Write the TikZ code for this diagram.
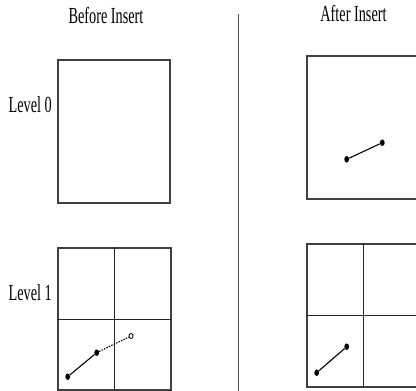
\documentclass[tikz,border=0pt]{standalone}
\usepackage{fontspec}
\setmainfont[FakeStretch=0.62]{Liberation Serif}
\usetikzlibrary{positioning,shapes.geometric}

\begin{document}
\begin{tikzpicture}[
  x=1pt,y=-1pt,
  cellbox/.style={rectangle,draw=black!75,line width=1.3pt,minimum width=113pt,minimum height=143pt,inner sep=0pt},
  label/.style={font=\fontsize{23}{26}\selectfont,inner sep=0pt},
  pt/.style={ellipse,fill=black,inner sep=0pt,minimum width=4.8pt,minimum height=6.5pt},
  newpt/.style={ellipse,draw=black,fill=white,line width=0.8pt,inner sep=0pt,minimum width=4pt,minimum height=5pt},
  seg/.style={line width=1.1pt},
  grid/.style={line width=1pt,black!85},
]
\useasboundingbox (0,0) rectangle (416,391);

% headings and level names
\node[label,anchor=base] (before) at (106,23.3) {Before Insert};
\node[label,anchor=base] (after) at (353.5,21) {After Insert};
\node[label,anchor=base east] (lvl0) at (52,112.7) {Level 0};
\node[label,anchor=base east] (lvl1) at (52,300) {Level 1};

% divider
\coordinate (divtop) at (238.7,14);
\coordinate (divbot) at (238.7,391);
\draw[black!70,line width=1pt] (divtop) -- (divbot);

% before insert
\node[cellbox,minimum width=112pt] (b0) at (114,131.5) {};
\node[cellbox,minimum height=142pt] (b1) at (114.5,319) {};
\draw[grid] (b1.north) -- (b1.south);
\draw[grid] (b1.west) -- (b1.east);
\node[pt] (bp1) at (67.7,376.7) {};
\node[pt] (bp2) at (96.7,352.7) {};
\node[newpt] (bp3) at (131,336) {};
\draw[seg] (bp1) -- (bp2);
\draw[seg,dash pattern=on 1.5pt off 1.2pt] (bp2) -- (bp3);

% after insert
\node[cellbox] (a0) at (363.5,127.5) {};
\node[pt] (ap1) at (346.7,159.3) {};
\node[pt] (ap2) at (382.3,142.7) {};
\draw[seg] (ap1) -- (ap2);
\node[cellbox] (a1) at (363.5,315.5) {};
\draw[grid] (a1.north) -- (a1.south);
\draw[grid] (a1.west) -- (a1.east);
\node[pt] (cp1) at (316.7,372.7) {};
\node[pt] (cp2) at (346.7,346.7) {};
\draw[seg] (cp1) -- (cp2);
\end{tikzpicture}
\end{document}
